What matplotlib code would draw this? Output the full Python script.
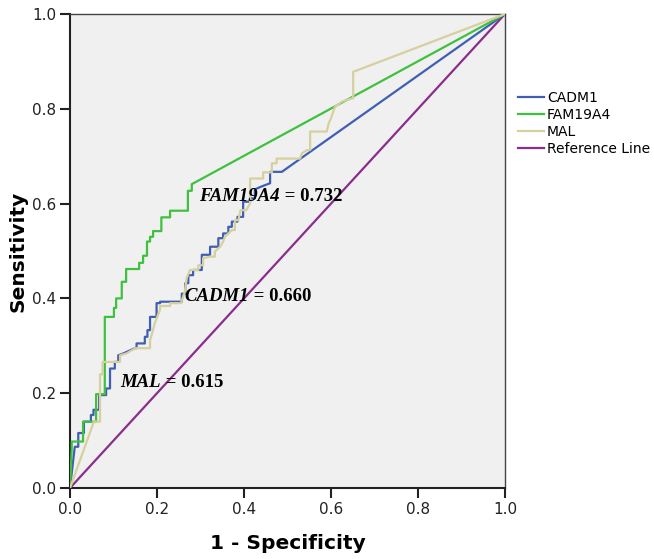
import matplotlib
matplotlib.use("Agg")
import matplotlib.pyplot as plt

# ---------------- data ----------------
fam_x = [0, 0.004, 0.004, 0.03, 0.03, 0.06, 0.06, 0.08, 0.08, 0.101, 0.101, 0.106, 0.106, 0.119, 0.119,
         0.129, 0.129, 0.159, 0.159, 0.168, 0.168, 0.177, 0.177, 0.184, 0.184, 0.191, 0.191, 0.21, 0.21,
         0.23, 0.23, 0.271, 0.271, 0.28, 0.28, 1.0]
fam_y = [0, 0.084, 0.098, 0.098, 0.14, 0.14, 0.198, 0.198, 0.361, 0.361, 0.38, 0.38, 0.40, 0.40, 0.435,
         0.435, 0.462, 0.462, 0.475, 0.475, 0.49, 0.49, 0.52, 0.52, 0.53, 0.53, 0.542, 0.542, 0.571,
         0.571, 0.585, 0.585, 0.627, 0.627, 0.641, 1.0]

cadm_x = [0, 0.011, 0.019, 0.019, 0.032, 0.032, 0.048, 0.048, 0.054, 0.054, 0.067, 0.067, 0.083, 0.083,
          0.092, 0.092, 0.103, 0.103, 0.111, 0.111, 0.123, 0.149, 0.153, 0.153, 0.172, 0.172, 0.178,
          0.178, 0.184, 0.184, 0.199, 0.199, 0.207, 0.207, 0.257, 0.257, 0.265, 0.265, 0.272, 0.272,
          0.283, 0.283, 0.303, 0.303, 0.322, 0.322, 0.341, 0.341, 0.352, 0.352, 0.364, 0.364, 0.372,
          0.372, 0.385, 0.385, 0.398, 0.398, 0.414, 0.414, 0.425, 0.425, 0.44, 0.46, 0.46, 0.487, 1.0]
cadm_y = [0, 0.087, 0.087, 0.116, 0.116, 0.14, 0.14, 0.154, 0.154, 0.165, 0.165, 0.196, 0.196, 0.21,
          0.21, 0.252, 0.252, 0.266, 0.266, 0.28, 0.284, 0.295, 0.295, 0.305, 0.305, 0.319, 0.319,
          0.333, 0.333, 0.361, 0.361, 0.39, 0.39, 0.393, 0.393, 0.41, 0.41, 0.432, 0.432, 0.449,
          0.449, 0.46, 0.46, 0.492, 0.492, 0.509, 0.509, 0.527, 0.527, 0.537, 0.537, 0.551, 0.551,
          0.562, 0.562, 0.572, 0.572, 0.604, 0.604, 0.611, 0.611, 0.63, 0.636, 0.643, 0.667, 0.667, 1.0]

mal_x = [0, 0.055, 0.069, 0.069, 0.075, 0.075, 0.115, 0.115, 0.13, 0.15, 0.184, 0.184, 0.19, 0.195, 0.2,
         0.207, 0.207, 0.23, 0.23, 0.255, 0.264, 0.268, 0.276, 0.295, 0.295, 0.306, 0.306, 0.322, 0.333,
         0.333, 0.345, 0.352, 0.356, 0.364, 0.372, 0.379, 0.379, 0.387, 0.392, 0.405, 0.414, 0.414,
         0.444, 0.444, 0.464, 0.464, 0.475, 0.475, 0.529, 0.533, 0.545, 0.552, 0.552, 0.59, 0.595, 0.6,
         0.609, 0.625, 0.648, 0.651, 0.651, 1.0]
mal_y = [0, 0.14, 0.14, 0.24, 0.24, 0.266, 0.266, 0.28, 0.284, 0.295, 0.295, 0.312, 0.33, 0.348, 0.36,
         0.376, 0.384, 0.384, 0.39, 0.39, 0.414, 0.442, 0.46, 0.46, 0.47, 0.47, 0.485, 0.488, 0.488,
         0.499, 0.509, 0.52, 0.53, 0.537, 0.544, 0.544, 0.565, 0.565, 0.586, 0.586, 0.6, 0.653,
         0.653, 0.666, 0.666, 0.685, 0.685, 0.695, 0.695, 0.706, 0.713, 0.713, 0.752, 0.752, 0.77, 0.78,
         0.804, 0.815, 0.822, 0.822, 0.878, 1.0]

ref_x = [0, 1]
ref_y = [0, 1]

series_names = ["CADM1", "FAM19A4", "MAL", "Reference Line"]
auc_names = ["FAM19A4", "CADM1", "MAL"]
auc_values = ["0.732", "0.660", "0.615"]
auc_pos = [(0.297, 0.614), (0.264, 0.405), (0.115, 0.222)]
ticks = [0.0, 0.2, 0.4, 0.6, 0.8, 1.0]

# ---------------- figure ----------------
fig = plt.figure(figsize=(6.54, 5.59), dpi=100)
ax = fig.add_axes([70 / 654, 71 / 559, 435 / 654, 474 / 559])
ax.set_facecolor("#f0f0f0")

lw = 1.6
ax.plot(cadm_x, cadm_y, color="#3f5fb5", lw=lw, label=series_names[0], zorder=3)
ax.plot(fam_x, fam_y, color="#3fc13f", lw=lw, label=series_names[1], zorder=3)
ax.plot(mal_x, mal_y, color="#d6cf9e", lw=lw, label=series_names[2], zorder=3)
ax.plot(ref_x, ref_y, color="#8a2d8c", lw=lw, label=series_names[3], zorder=2)

ax.set_xlim(0, 1)
ax.set_ylim(0, 1)
ax.set_xticks(ticks)
ax.set_yticks(ticks)
ax.set_xticklabels([f"{t:.1f}" for t in ticks])
ax.set_yticklabels([f"{t:.1f}" for t in ticks])
ax.tick_params(direction="out", length=7, width=1.5, labelsize=11, pad=3, colors="#222222")
for s in ["left", "bottom"]:
    ax.spines[s].set_linewidth(1.5)
    ax.spines[s].set_color("#222222")
for s in ["right", "top"]:
    ax.spines[s].set_linewidth(1.0)
    ax.spines[s].set_color("#444444")

ax.set_xlabel("1 - Specificity", fontsize=14.5, fontweight="bold", labelpad=12)
ax.set_ylabel("Sensitivity", fontsize=14.5, fontweight="bold", labelpad=3)

for name, val, (px, py) in zip(auc_names, auc_values, auc_pos):
    t = ax.text(px, py, name, fontsize=13.5, fontweight="bold", fontstyle="italic",
                family="Liberation Serif", va="center", ha="left", zorder=5)
    ax.annotate(" = " + val, xy=(1, 0), xycoords=t, va="bottom", ha="left",
                fontsize=13.5, fontweight="bold", family="Liberation Serif", zorder=5)

leg = ax.legend(loc="upper left", bbox_to_anchor=(1.017, 0.85), frameon=False,
                fontsize=10, handlelength=1.85, handletextpad=0.25, labelspacing=0.22,
                borderaxespad=0)

fig.savefig("out.png", dpi=100, facecolor="white")
